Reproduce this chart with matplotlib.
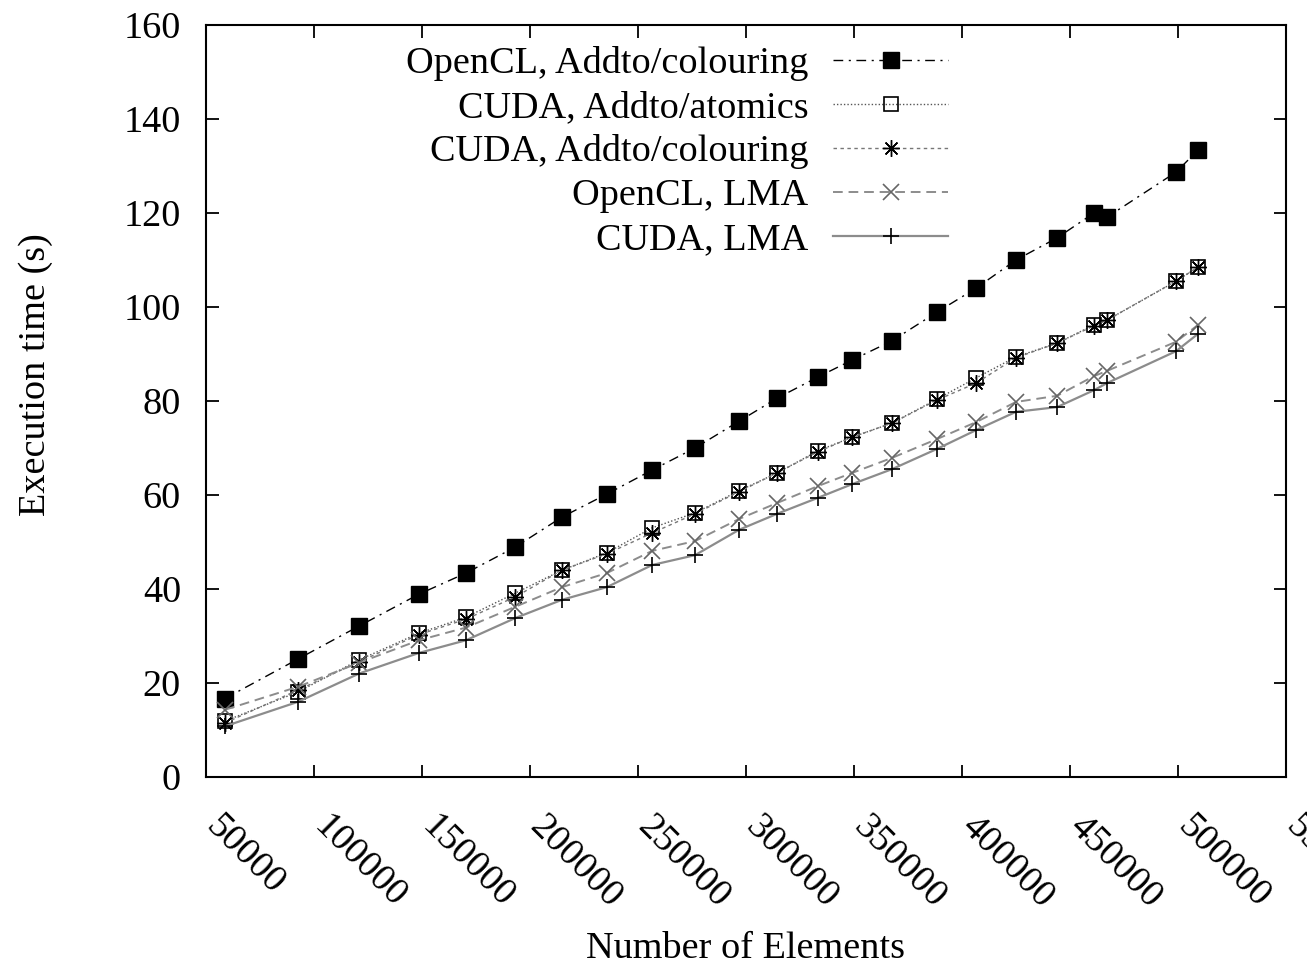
import matplotlib
matplotlib.use("Agg")
import matplotlib.pyplot as plt
from matplotlib.transforms import ScaledTranslation

plt.rcParams['font.family'] = ['Liberation Serif', 'DejaVu Serif']
plt.rcParams['font.size'] = 27.5

# number of elements per run
elements = [58800, 92600, 120800, 148600, 170400, 193100, 214800, 235600,
            256500, 276400, 296800, 314400, 333300, 349100, 367600, 388400,
            406500, 425000, 444000, 461100, 467100, 499100, 509300]

# execution time (s)
opencl_colouring = [16.7, 25.1, 32.1, 38.9, 43.4, 48.9, 55.3, 60.2, 65.3, 70.0,
                    75.7, 80.6, 85.1, 88.7, 92.8, 98.9, 104.0, 110.0, 114.7,
                    120.0, 119.1, 128.7, 133.4]
cuda_atomics = [11.9, 18.1, 24.9, 30.6, 34.0, 39.1, 44.0, 47.7, 53.0, 56.2,
                60.9, 64.7, 69.4, 72.3, 75.3, 80.4, 84.9, 89.4, 92.3, 96.2,
                97.2, 105.5, 108.5]
cuda_colouring = [11.5, 18.5, 24.5, 30.3, 33.6, 38.3, 44.0, 47.5, 51.9, 56.0,
                  60.7, 64.7, 69.2, 72.3, 75.3, 80.2, 83.8, 89.2, 92.3, 96.0,
                  97.2, 105.5, 108.5]
opencl_lma = [14.3, 19.2, 24.3, 29.1, 31.8, 36.2, 40.4, 43.4, 48.1, 50.2,
              54.9, 58.3, 61.9, 64.7, 67.9, 71.9, 75.5, 79.8, 81.1, 85.3,
              86.4, 92.6, 96.2]
cuda_lma = [10.8, 16.0, 22.0, 26.4, 29.1, 33.8, 37.7, 40.4, 45.1, 47.2,
            52.6, 56.0, 59.4, 62.3, 65.5, 69.8, 73.8, 77.7, 78.7, 82.3,
            83.8, 90.6, 94.3]

xticks = list(range(50000, 550001, 50000))
yticks = list(range(0, 161, 20))

fig = plt.figure(figsize=(13.07, 9.69), dpi=100)
ax = fig.add_axes([206/1307, 1 - 777/969, 1080/1307, 752/969])

gray = '#8c8c8c'
ax.plot(elements, opencl_colouring, color='black', lw=1.0,
        linestyle=(0, (7, 4, 1.5, 4)), marker='s', markersize=11,
        markerfacecolor='black', markeredgecolor='black',
        label='OpenCL, Addto/colouring')
ax.plot(elements, cuda_atomics, color='#555555', lw=1.0,
        linestyle=(0, (1, 1.5)), marker='s', markersize=10,
        markerfacecolor='none', markeredgecolor='black', markeredgewidth=1.2,
        label='CUDA, Addto/atomics')
ax.plot(elements, cuda_colouring, color='#777777', lw=1.0,
        linestyle=(0, (2.5, 2.5)), marker=(8, 2, 0), markersize=12,
        markeredgecolor='black', markeredgewidth=1.0,
        label='CUDA, Addto/colouring')
ax.plot(elements, opencl_lma, color=gray, lw=1.4,
        linestyle=(0, (5, 3)), marker='x', markersize=12,
        markeredgecolor='#666666', markeredgewidth=1.2,
        label='OpenCL, LMA')
ax.plot(elements, cuda_lma, color=gray, lw=1.6, linestyle='-',
        marker='+', markersize=12, markeredgecolor='black',
        markeredgewidth=1.2, label='CUDA, LMA')

ax.set_xlim(50000, 550000)
ax.set_ylim(0, 160)
ax.set_xticks(xticks)
ax.set_yticks(yticks)
ax.set_xticklabels([str(v) for v in xticks], rotation=-45, ha='left',
                   va='top', rotation_mode='anchor')
ax.tick_params(direction='in', top=True, right=True, length=9, width=1.3)
ax.tick_params(axis='y', pad=18)
ax.tick_params(axis='x', pad=9)
# gnuplot puts the rotated labels a little right of and below the tick
shift = ScaledTranslation(0.17, -0.20, fig.dpi_scale_trans)
for lab in ax.get_xticklabels():
    lab.set_transform(lab.get_transform() + shift)
for sp in ax.spines.values():
    sp.set_linewidth(1.5)

ax.set_xlabel('Number of Elements')
ax.set_ylabel('Execution time (s)')
ax.xaxis.set_label_coords(0.5, -0.205)
ax.yaxis.set_label_coords(-0.142, 0.535)

ax.legend(loc='upper right', bbox_to_anchor=(0.687, 0.972), frameon=False,
          markerfirst=False, handlelength=3.0, handletextpad=0.65,
          labelspacing=0.24, borderpad=0, borderaxespad=0)

fig.savefig('out.png', dpi=100)
